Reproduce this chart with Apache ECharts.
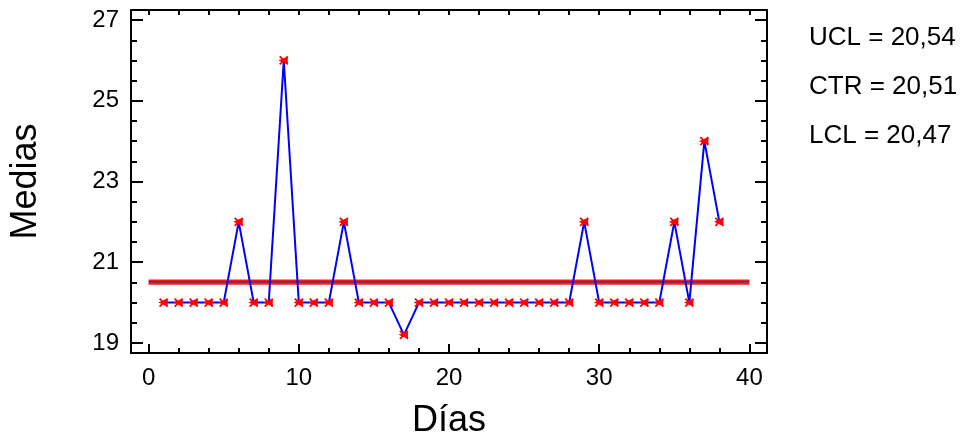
<!DOCTYPE html>
<html>
<head>
<meta charset="utf-8">
<title>Medias por día</title>
<script src="https://cdn.jsdelivr.net/npm/echarts@6/dist/echarts.min.js"></script>
<style>
  html, body { margin: 0; padding: 0; background: #ffffff; }
  #chart { width: 970px; height: 446px; }
</style>
</head>
<body>
<div id="chart"></div>
<script>
// Día de muestreo y media observada
const dias = [1, 2, 3, 4, 5, 6, 7, 8, 9, 10, 11, 12, 13, 14, 15, 16, 17, 18, 19, 20,
              21, 22, 23, 24, 25, 26, 27, 28, 29, 30, 31, 32, 33, 34, 35, 36, 37, 38];
const medias = [20, 20, 20, 20, 20, 22, 20, 20, 26, 20, 20, 20, 22, 20, 20, 20, 19.2, 20, 20, 20,
                20, 20, 20, 20, 20, 20, 20, 20, 22, 20, 20, 20, 20, 20, 22, 20, 24, 22];

// Límites de control
const UCL = 20.54;
const CTR = 20.51;
const LCL = 20.47;
const limiteDesde = 0;
const limiteHasta = 40;

// Marcas de los ejes
const xTicksMayores = [0, 10, 20, 30, 40];
const xTicksMenores = [2, 4, 6, 8, 12, 14, 16, 18, 22, 24, 26, 28, 32, 34, 36, 38];
const xTicksSuperiores = [0, 2, 4, 6, 8, 10, 12, 14, 16, 18, 20, 22, 24, 26, 28, 30, 32, 34, 36, 38, 40];
const yTicksMayores = [19, 21, 23, 25, 27];
const yTicksMenores = [19.5, 20, 20.5, 21.5, 22, 22.5, 23.5, 24, 24.5, 25.5, 26, 26.5];

const X_MIN = -1.17, X_MAX = 41.17;
const Y_MIN = 18.75, Y_MAX = 27.25;
const FONT = '"Liberation Sans", Arial, sans-serif';

const puntos = dias.map((d, i) => [d, medias[i]]);
const fmt = v => v.toFixed(2).replace('.', ',');

function eje(min, max, position, ticks, len, opts) {
  return Object.assign({
    type: 'value', position: position, min: min, max: max, offset: 0,
    axisLine: { show: false, onZero: false },
    axisTick: { show: true, inside: true, length: len, customValues: ticks,
                lineStyle: { color: '#000', width: 2 } },
    axisLabel: { show: false },
    splitLine: { show: false }
  }, opts || {});
}
const lineaEje = { show: true, onZero: false, lineStyle: { color: '#000', width: 2 } };

const chart = echarts.init(document.getElementById('chart'), null, { renderer: 'canvas' });

const marcador = 'path://M0,0L10,10M0,10L10,0M10,1L1,5L10,9';

const option = {
  backgroundColor: '#ffffff',
  animation: false,
  grid: { left: 127, right: 203, top: 10, bottom: 93, containLabel: false },
  xAxis: [
    eje(X_MIN, X_MAX, 'bottom', xTicksMayores, 9, {
      axisLine: lineaEje,
      axisLabel: { show: true, customValues: xTicksMayores, color: '#000',
                   fontSize: 24, fontFamily: FONT, margin: 13 },
      name: 'Días', nameLocation: 'middle', nameGap: 50,
      nameTextStyle: { color: '#000', fontSize: 36, fontFamily: FONT }
    }),
    eje(X_MIN, X_MAX, 'bottom', xTicksMenores, 5),
    eje(X_MIN, X_MAX, 'top', xTicksSuperiores, 5, { axisLine: lineaEje })
  ],
  yAxis: [
    eje(Y_MIN, Y_MAX, 'left', yTicksMayores, 12, {
      axisLine: lineaEje,
      axisLabel: { show: true, customValues: yTicksMayores, color: '#000',
                   fontSize: 24, fontFamily: FONT, margin: 12 },
      name: 'Medias', nameLocation: 'middle', nameGap: 87, nameRotate: 90,
      nameTextStyle: { color: '#000', fontSize: 36, fontFamily: FONT }
    }),
    eje(Y_MIN, Y_MAX, 'left', yTicksMenores, 6),
    eje(Y_MIN, Y_MAX, 'right', yTicksMayores, 12, { axisLine: lineaEje }),
    eje(Y_MIN, Y_MAX, 'right', yTicksMenores, 6)
  ],
  series: [
    {
      name: 'UCL', type: 'line', xAxisIndex: 0, yAxisIndex: 0,
      data: [[limiteDesde, UCL], [limiteHasta, UCL]],
      symbol: 'none', silent: true,
      lineStyle: { color: '#ff1a1a', width: 2.5 }
    },
    {
      name: 'LCL', type: 'line', xAxisIndex: 0, yAxisIndex: 0,
      data: [[limiteDesde, LCL], [limiteHasta, LCL]],
      symbol: 'none', silent: true,
      lineStyle: { color: '#ff1a1a', width: 2.5 }
    },
    {
      name: 'CTR', type: 'line', xAxisIndex: 0, yAxisIndex: 0,
      data: [[limiteDesde, CTR], [limiteHasta, CTR]],
      symbol: 'none', silent: true,
      lineStyle: { color: '#2a1470', width: 1.2 }
    },
    {
      name: 'Medias', type: 'line', xAxisIndex: 0, yAxisIndex: 0,
      data: puntos,
      symbol: marcador, symbolSize: 8, showSymbol: true,
      itemStyle: { color: '#ff0000', borderColor: '#ff0000', borderWidth: 1.8 },
      lineStyle: { color: '#0000ff', width: 2 },
      z: 5
    }
  ],
  graphic: [
    { type: 'text', left: 809, top: 25,
      style: { text: 'UCL = ' + fmt(UCL), fill: '#000', fontSize: 26, fontFamily: FONT } },
    { type: 'text', left: 809, top: 74,
      style: { text: 'CTR = ' + fmt(CTR), fill: '#000', fontSize: 26, fontFamily: FONT } },
    { type: 'text', left: 809, top: 123,
      style: { text: 'LCL = ' + fmt(LCL), fill: '#000', fontSize: 26, fontFamily: FONT } }
  ]
};

chart.setOption(option);
</script>
</body>
</html>
